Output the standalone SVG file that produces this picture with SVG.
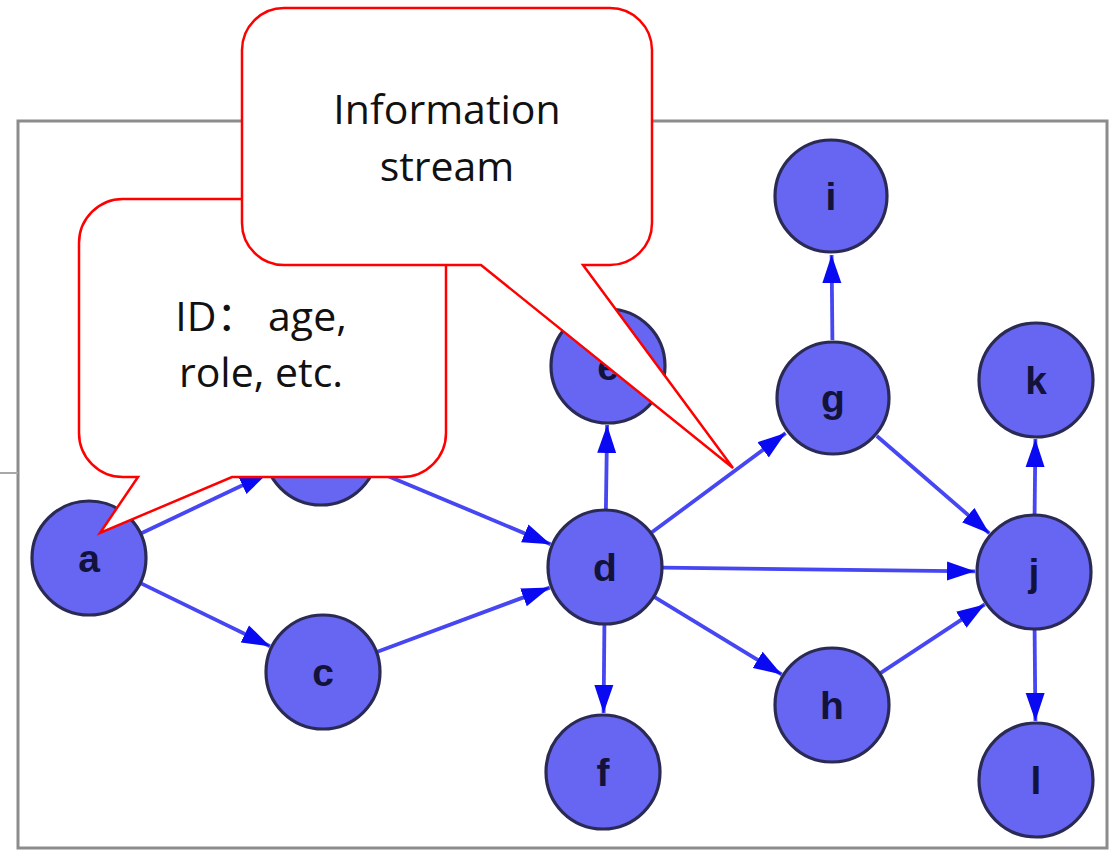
<svg xmlns="http://www.w3.org/2000/svg" width="1119" height="850" viewBox="0 0 1119 850">
<style>
.node circle{fill:#6666f2;stroke:#2a2a55;stroke-width:3.2}
.node text{font-family:"Liberation Sans",Arial,sans-serif;font-weight:bold;font-size:39px;fill:#12123a;text-anchor:middle}
.edge{stroke:#4646f2;stroke-width:3.8;fill:none;marker-end:url(#arr)}
.callout{fill:#ffffff;stroke:#ff0000;stroke-width:2.5;stroke-linejoin:miter}
.ctext{font-family:"Open Sans","Noto Sans","Noto Sans CJK SC",sans-serif;font-size:41px;fill:#111111;text-anchor:middle}
</style>
<defs>
<marker id="arr" markerUnits="userSpaceOnUse" markerWidth="30" markerHeight="20" refX="28" refY="9.5" orient="auto" viewBox="0 0 30 19">
<path d="M0,0 L28,9.5 L0,19 Z" fill="#0a0af2"/>
</marker>
</defs>
<rect width="1119" height="850" fill="#ffffff"/>
<g id="frame">
<rect x="18" y="121" width="1089" height="727" fill="none" stroke="#8c8c8c" stroke-width="3"/>
<line x1="0" y1="473" x2="18" y2="473" stroke="#a8a8a8" stroke-width="2"/>
</g>
<g id="connectors">
<line class="edge" x1="141.4" y1="533.2" x2="267.7" y2="473.3"/>
<line class="edge" x1="141.1" y1="583.4" x2="270" y2="646.2"/>
<line class="edge" x1="374.5" y1="470.4" x2="550.6" y2="544.2"/>
<line class="edge" x1="377.4" y1="651.8" x2="549.7" y2="587.6"/>
<line class="edge" x1="605.9" y1="509" x2="607.1" y2="425"/>
<line class="edge" x1="604.4" y1="625" x2="603.6" y2="713"/>
<line class="edge" x1="651.6" y1="532.5" x2="785.6" y2="433.1"/>
<line class="edge" x1="663" y1="567.7" x2="975" y2="571.3"/>
<line class="edge" x1="654.6" y1="597.1" x2="781.6" y2="674.4"/>
<line class="edge" x1="832.4" y1="340" x2="831.6" y2="255"/>
<line class="edge" x1="876.8" y1="436" x2="989.4" y2="533.4"/>
<line class="edge" x1="880.4" y1="673.1" x2="984.7" y2="604.4"/>
<line class="edge" x1="1034.6" y1="514" x2="1035.4" y2="439"/>
<line class="edge" x1="1034.6" y1="630" x2="1035.4" y2="721"/>
</g>
<g id="node-a" class="node"><circle cx="89" cy="558" r="57"/><text x="89" y="572">a</text></g>
<g id="node-b" class="node"><circle cx="321" cy="448" r="57"/><text x="321" y="462">b</text></g>
<g id="node-c" class="node"><circle cx="323" cy="672" r="57"/><text x="323" y="686">c</text></g>
<g id="node-d" class="node"><circle cx="605" cy="567" r="57"/><text x="605" y="581">d</text></g>
<g id="node-e" class="node"><circle cx="608" cy="366" r="57"/><text x="608" y="380">e</text></g>
<g id="node-f" class="node"><circle cx="603" cy="772" r="57"/><text x="603" y="786">f</text></g>
<g id="node-g" class="node"><circle cx="833" cy="398" r="56"/><text x="833" y="412">g</text></g>
<g id="node-i" class="node"><circle cx="831" cy="196" r="56"/><text x="831" y="210">i</text></g>
<g id="node-h" class="node"><circle cx="832" cy="705" r="57"/><text x="832" y="719">h</text></g>
<g id="node-j" class="node"><circle cx="1034" cy="572" r="57"/><text x="1034" y="586">j</text></g>
<g id="node-k" class="node"><circle cx="1036" cy="380" r="57"/><text x="1036" y="394">k</text></g>
<g id="node-l" class="node"><circle cx="1036" cy="780" r="57"/><text x="1036" y="794">l</text></g>
<g id="callout-id">
<path class="callout" d="M123,199 H402 A44,44 0 0 1 446,243 V433 A44,44 0 0 1 402,477 H232 L100,533 L138,477 H123 A44,44 0 0 1 79,433 V243 A44,44 0 0 1 123,199 Z"/>
<text class="ctext" x="261" y="331">ID： age,</text>
<text class="ctext" x="261" y="387">role, etc.</text>
</g>
<g id="callout-info">
<path class="callout" d="M284,8 H610 A42,42 0 0 1 652,50 V223 A42,42 0 0 1 610,265 H583 L733,468 L481,265 H284 A42,42 0 0 1 242,223 V50 A42,42 0 0 1 284,8 Z"/>
<text class="ctext" x="447" y="124">Information</text>
<text class="ctext" x="447" y="181">stream</text>
</g>
</svg>
